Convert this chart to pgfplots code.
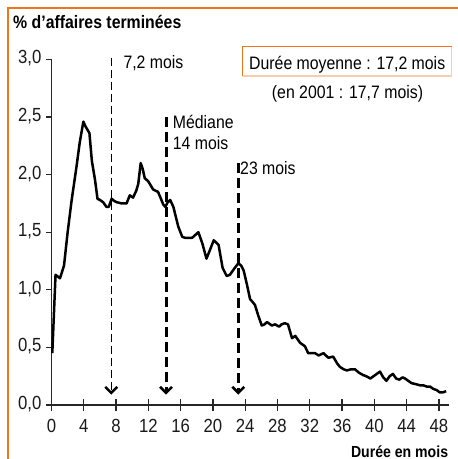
\documentclass[border=0pt]{standalone}
\usepackage{fontspec}
\setmainfont{Liberation Sans}[FakeStretch=0.88]
\usepackage{pgfplots}
\pgfplotsset{compat=1.18}
\usetikzlibrary{arrows.meta}
\definecolor{frameorange}{RGB}{240,118,30}
\definecolor{peach}{RGB}{250,205,170}
\newcommand\f{\fontsize{18bp}{21bp}\selectfont}
\newcommand\ft{\fontsize{19bp}{22bp}\selectfont}
\begin{document}
\begin{tikzpicture}
\useasboundingbox (-51.5bp,-54bp) rectangle (406.5bp,405bp);
\draw[frameorange, line width=2.5bp] (-43.5bp,-60bp) -- (-43.5bp,397bp) -- (410bp,397bp);
\begin{axis}[
  scale only axis, width=397.9bp, height=345.6bp,
  xmin=0, xmax=49.3, ymin=0, ymax=3,
  axis x line*=bottom, axis y line*=left,
  axis line style={line width=1.3bp, black!85},
  clip=false,
  xtick={0,4,...,48}, ytick={0,0.5,...,3},
  tick align=center, major tick length=12bp,
  y tick style={/pgfplots/major tick length=5bp, xshift=-2.5bp},
  tick style={line width=1.3bp, black!85},
  tick label style={font=\ft, text=black!90},
  /pgf/number format/assume math mode=true,
  yticklabel style={/pgf/number format/use comma, /pgf/number format/fixed, /pgf/number format/fixed zerofill, /pgf/number format/precision=1, anchor=east, inner sep=0pt, xshift=-4bp, yshift=1bp},
  xticklabel style={anchor=north, inner sep=0pt, yshift=-8bp},
]
\addplot[line width=2.5bp, black, line join=round] coordinates {
(0.1,0.45) (0.5,1.13) (1.05,1.10) (1.55,1.21) (2.0,1.50) (2.5,1.78) (3.1,2.07) (3.5,2.28) (3.95,2.46) (4.2,2.42) (4.7,2.36) (5.0,2.12) (5.4,1.95) (5.7,1.79) (6.0,1.78) (6.4,1.76) (6.8,1.72) (7.1,1.72) (7.45,1.79) (7.8,1.77) (8.1,1.76) (8.7,1.75) (9.3,1.75) (9.7,1.82) (10.1,1.80) (10.5,1.86) (10.75,1.92) (11.05,2.10) (11.3,2.05) (11.55,1.97) (12.0,1.94) (12.6,1.87) (13.2,1.85) (13.5,1.80) (13.85,1.74) (14.1,1.72) (14.4,1.76) (14.7,1.78) (15.1,1.72) (15.7,1.55) (16.2,1.46) (16.6,1.45) (17.0,1.45) (17.4,1.45) (18.2,1.50) (18.7,1.40) (19.2,1.27) (19.6,1.34) (20.1,1.43) (20.7,1.39) (21.2,1.19) (21.7,1.12) (22.1,1.13) (22.6,1.18) (23.15,1.23) (23.5,1.21) (23.8,1.17) (24.2,1.05) (24.6,0.92) (25.2,0.87) (25.6,0.78) (26.05,0.69) (26.4,0.70) (26.7,0.72) (27.3,0.69) (27.7,0.70) (28.2,0.68) (28.5,0.70) (28.9,0.71) (29.3,0.70) (29.8,0.58) (30.2,0.60) (30.8,0.54) (31.4,0.51) (31.8,0.45) (32.2,0.45) (32.65,0.45) (33.1,0.43) (33.7,0.45) (34.3,0.41) (34.9,0.42) (35.4,0.36) (35.75,0.33) (36.2,0.31) (36.6,0.30) (37.1,0.31) (37.6,0.31) (38.1,0.28) (38.6,0.26) (39.0,0.25) (39.5,0.23) (40.1,0.26) (40.7,0.29) (41.1,0.24) (41.5,0.21) (41.9,0.25) (42.3,0.27) (42.7,0.23) (43.1,0.22) (43.5,0.24) (43.8,0.23) (44.2,0.21) (44.6,0.19) (45.2,0.18) (45.7,0.17) (46.1,0.17) (46.5,0.16) (46.9,0.16) (47.3,0.14) (47.7,0.13) (48.1,0.11) (48.5,0.11) (48.9,0.12)
};
\addplot[line width=1bp, black, dash pattern=on 8bp off 4bp, -{Straight Barb[length=6bp,width=12bp,line width=2.5bp]}] coordinates {(7.4,3.01) (7.4,0.09)};
\addplot[line width=3bp, black, dash pattern=on 10bp off 5bp, -{Straight Barb[length=6bp,width=12bp,line width=2.5bp]}] coordinates {(14.2,2.50) (14.2,0.09)};
\addplot[line width=3bp, black, dash pattern=on 10bp off 5bp, -{Straight Barb[length=6bp,width=12bp,line width=2.5bp]}] coordinates {(23.15,2.10) (23.15,0.09)};
\end{axis}
\node[anchor=base west, inner sep=0pt, font=\f\bfseries] at (-38.5bp,376bp) {\% d'affaires terminées};
\node[anchor=base west, inner sep=0pt, font=\f] at (71.8bp,336bp) {7,2 mois};
\node[anchor=base west, inner sep=0pt, font=\f] at (121.2bp,276.7bp) {Médiane};
\node[anchor=base west, inner sep=0pt, font=\f] at (121.2bp,255bp) {14 mois};
\node[anchor=base west, inner sep=0pt, font=\f] at (188.5bp,230bp) {23 mois};
\draw[peach, line width=1.5bp] (400.2bp,358.3bp) -- (400.2bp,329bp) -- (191.2bp,329bp);
\draw[frameorange, line width=1.5bp] (191.2bp,329bp) -- (191.2bp,358.3bp) -- (400.2bp,358.3bp);
\node[anchor=base, inner sep=0pt, font=\f] at (295.7bp,335.7bp) {Durée moyenne : 17,2 mois};
\node[anchor=base, inner sep=0pt, font=\f] at (296bp,306.7bp) {(en 2001 : 17,7 mois)};
\node[anchor=base east, inner sep=0pt, font=\fontsize{16bp}{19bp}\selectfont\bfseries] at (396.8bp,-52bp) {Durée en mois};
\end{tikzpicture}
\end{document}
